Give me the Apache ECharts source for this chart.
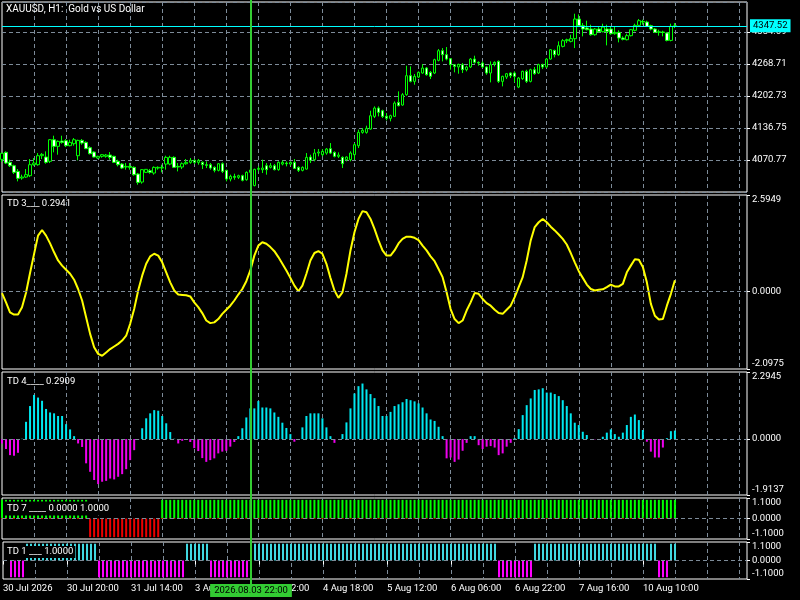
<!DOCTYPE html>
<html><head><meta charset="utf-8">
<script src="https://cdn.jsdelivr.net/npm/echarts@6/dist/echarts.min.js"></script>
<style>html,body{margin:0;padding:0;background:#000;}#c{width:800px;height:600px;}</style>
</head><body><div id="c"></div>
<script>
// ---- data (H1 bars, index 0..168) ----
const open = [
4072.0,4086.5,4065.9,4059.0,4047.3,4033.6,4035.6,4038.4,4061.1,4061.1,
4079.6,4076.9,4068.0,4112.6,4098.9,4109.9,4110.6,4100.3,4104.4,4079.6,
4111.2,4107.1,4096.1,4087.2,4074.8,4078.3,4078.3,4081.0,4078.3,4068.0,
4062.4,4056.3,4057.6,4055.6,4041.8,4025.3,4045.3,4048.7,4043.9,4054.2,
4054.2,4062.4,4062.4,4076.2,4057.6,4056.3,4063.1,4065.9,4070.0,4065.9,
4065.9,4061.1,4061.1,4055.6,4049.4,4063.1,4049.4,4031.5,4037.0,4035.0,
4038.4,4030.1,4045.3,4018.0,4051.5,4050.8,4059.0,4055.6,4059.0,4050.8,
4062.4,4064.5,4062.4,4065.9,4055.6,4049.4,4052.1,4076.9,4071.4,4085.1,
4081.7,4085.1,4094.1,4086.5,4078.3,4076.2,4071.4,4071.4,4081.7,4100.2,
4127.7,4127.7,4134.6,4160.7,4177.9,4172.4,4161.0,4156.6,4160.7,4189.6,
4184.1,4205.4,4244.6,4232.9,4241.8,4250.1,4260.4,4251.5,4250.1,4276.2,
4296.1,4287.9,4279.6,4267.3,4262.5,4267.3,4257.0,4262.5,4278.9,4272.1,
4270.7,4262.5,4250.1,4268.6,4274.1,4232.9,4241.8,4250.1,4250.1,4221.2,
4238.4,4253.5,4232.9,4256.9,4250.1,4267.3,4262.5,4278.9,4296.8,4287.9,
4305.1,4316.8,4315.4,4320.9,4361.4,4347.7,4342.9,4340.8,4329.1,4340.8,
4335.3,4340.8,4340.8,4331.2,4333.9,4322.3,4318.8,4327.1,4338.1,4348.4,
4356.6,4355.2,4347.7,4340.8,4333.9,4334.6,4332.6,4317.4,4346.3];
const high = [
4086.0,4088.6,4071.4,4061.1,4052.1,4040.5,4052.1,4072.8,4074.8,4085.1,
4085.1,4088.6,4114.0,4120.9,4111.2,4120.9,4114.0,4112.6,4116.1,4112.6,
4114.0,4109.2,4098.9,4088.6,4079.6,4083.1,4083.1,4087.2,4079.6,4071.4,
4064.5,4064.5,4064.5,4057.6,4043.9,4052.1,4052.1,4052.1,4057.6,4057.6,
4061.1,4079.6,4079.6,4078.3,4064.5,4065.9,4072.8,4074.8,4072.8,4072.8,
4068.0,4068.0,4064.5,4057.6,4064.5,4065.9,4050.8,4040.5,4042.5,4040.5,
4040.5,4047.3,4052.1,4052.8,4057.6,4071.4,4064.5,4064.5,4062.4,4068.0,
4070.0,4068.0,4068.0,4072.8,4057.6,4057.6,4085.1,4081.7,4093.4,4093.4,
4093.4,4095.4,4105.7,4088.6,4086.5,4078.3,4078.3,4088.6,4105.7,4133.3,
4136.7,4141.5,4172.4,4181.3,4181.3,4174.5,4167.6,4164.2,4191.7,4212.3,
4208.8,4265.2,4263.8,4248.0,4253.5,4268.6,4262.5,4254.2,4279.6,4299.6,
4301.6,4303.7,4281.0,4268.6,4269.3,4270.7,4265.2,4281.0,4285.8,4274.1,
4274.1,4263.8,4274.1,4274.1,4276.2,4244.6,4250.1,4251.5,4253.5,4241.8,
4255.0,4256.9,4259.0,4262.5,4269.3,4269.3,4280.9,4299.6,4298.2,4315.4,
4320.2,4320.9,4329.1,4372.4,4371.0,4353.2,4358.0,4349.7,4342.9,4344.9,
4351.8,4349.7,4346.3,4346.3,4338.1,4325.7,4331.2,4340.8,4351.8,4361.4,
4360.0,4358.0,4349.7,4342.9,4339.4,4337.4,4333.9,4351.8,4353.2];
const low = [
4066.6,4062.4,4056.3,4041.8,4026.7,4030.1,4033.6,4035.6,4059.0,4059.0,
4072.8,4063.1,4064.5,4086.5,4081.7,4104.4,4097.5,4098.9,4100.3,4070.0,
4102.3,4093.4,4082.4,4076.2,4072.8,4075.5,4075.5,4071.4,4064.5,4057.6,
4052.1,4050.8,4050.8,4038.4,4019.8,4021.9,4043.9,4042.5,4040.5,4050.8,
4045.3,4050.8,4060.0,4054.2,4047.3,4052.1,4061.1,4063.1,4062.4,4061.1,
4052.1,4054.2,4050.8,4045.3,4047.3,4043.9,4026.7,4026.7,4030.1,4031.5,
4026.7,4028.1,4040.5,4016.4,4047.3,4043.9,4040.5,4053.5,4049.4,4048.7,
4059.7,4057.6,4059.0,4052.1,4046.0,4047.3,4050.8,4064.5,4068.0,4078.3,
4078.3,4081.7,4083.1,4076.2,4074.8,4054.2,4068.0,4068.0,4071.4,4095.4,
4125.0,4125.0,4133.3,4157.3,4160.7,4157.3,4152.5,4150.4,4159.3,4181.3,
4182.7,4203.3,4230.8,4226.0,4239.8,4248.7,4244.6,4237.7,4248.0,4274.1,
4274.1,4276.2,4257.0,4251.5,4248.7,4250.1,4253.5,4260.4,4269.3,4265.2,
4260.4,4246.6,4230.8,4263.8,4229.5,4222.6,4237.7,4239.8,4230.8,4219.0,
4236.0,4229.5,4230.8,4246.6,4248.0,4258.3,4260.4,4277.6,4282.4,4285.8,
4303.0,4311.9,4313.3,4301.6,4344.9,4325.7,4338.1,4327.1,4327.1,4333.9,
4333.9,4307.1,4329.1,4329.1,4313.3,4317.4,4317.4,4325.7,4336.0,4344.9,
4349.7,4344.9,4338.1,4332.6,4327.1,4325.7,4315.4,4315.4,4342.9];
const close = [
4084.5,4064.5,4059.0,4045.3,4032.9,4035.6,4040.5,4061.1,4064.5,4079.6,
4082.4,4065.9,4112.6,4098.9,4109.2,4107.1,4100.3,4107.1,4112.6,4111.2,
4105.7,4094.1,4083.8,4076.9,4078.3,4081.7,4081.0,4076.2,4065.9,4061.1,
4054.2,4057.6,4055.6,4040.5,4024.6,4050.8,4051.5,4045.3,4055.6,4055.6,
4055.6,4076.2,4076.2,4055.6,4056.3,4063.1,4065.9,4070.0,4065.9,4070.0,
4061.1,4059.7,4054.2,4049.4,4063.1,4047.3,4031.5,4037.0,4035.0,4038.4,
4028.8,4045.3,4050.0,4051.5,4053.5,4054.2,4050.8,4059.0,4050.8,4065.9,
4065.9,4063.1,4065.9,4053.5,4049.4,4055.6,4076.2,4070.0,4085.1,4087.2,
4088.6,4093.4,4085.1,4078.3,4081.0,4063.1,4076.9,4085.1,4102.3,4127.7,
4131.9,4136.0,4162.1,4177.9,4169.0,4160.7,4157.0,4162.1,4188.2,4182.7,
4205.4,4244.6,4232.9,4243.2,4251.5,4260.4,4246.6,4243.2,4277.6,4296.1,
4287.9,4278.9,4267.3,4263.8,4267.9,4257.0,4262.5,4278.9,4272.1,4270.7,
4262.5,4250.1,4267.3,4272.1,4232.9,4243.2,4248.7,4244.6,4243.2,4239.8,
4253.6,4232.9,4256.9,4248.7,4267.3,4262.5,4278.9,4298.2,4287.9,4306.4,
4316.8,4318.8,4320.9,4361.4,4347.7,4340.8,4339.4,4329.1,4340.8,4335.3,
4344.9,4336.0,4331.2,4333.9,4322.3,4319.5,4327.1,4339.4,4348.4,4358.0,
4355.2,4346.3,4340.8,4333.9,4335.3,4333.9,4317.4,4346.3,4347.52];
const td3 = [
-0.05,-0.30,-0.57,-0.63,-0.63,-0.43,-0.04,0.49,1.00,1.50,
1.65,1.50,1.29,1.05,0.83,0.69,0.58,0.47,0.31,0.06,
-0.25,-0.70,-1.15,-1.51,-1.69,-1.74,-1.65,-1.56,-1.49,-1.42,
-1.33,-1.20,-0.88,-0.48,0.02,0.42,0.74,0.94,1.01,0.96,
0.78,0.51,0.24,0.02,-0.09,-0.10,-0.11,-0.14,-0.30,-0.43,
-0.59,-0.79,-0.86,-0.84,-0.75,-0.61,-0.50,-0.39,-0.25,-0.09,
0.06,0.27,0.56,0.96,1.23,1.32,1.28,1.19,1.08,0.92,
0.74,0.56,0.36,0.15,0.00,0.15,0.47,0.83,1.03,1.08,
1.01,0.74,0.36,0.02,-0.18,-0.03,0.47,1.10,1.59,1.95,
2.16,2.13,1.95,1.68,1.37,1.10,0.96,0.96,1.10,1.29,
1.41,1.47,1.47,1.44,1.38,1.23,1.10,0.94,0.81,0.60,
0.38,-0.03,-0.48,-0.75,-0.86,-0.79,-0.52,-0.30,-0.05,-0.07,
-0.21,-0.32,-0.39,-0.50,-0.59,-0.61,-0.50,-0.39,-0.16,0.11,
0.38,0.83,1.37,1.73,1.86,1.95,1.86,1.74,1.64,1.53,
1.41,1.26,1.03,0.78,0.54,0.36,0.18,0.06,0.02,0.04,
0.05,0.11,0.18,0.13,0.13,0.20,0.51,0.69,0.86,0.85,
0.65,0.24,-0.34,-0.66,-0.76,-0.75,-0.39,-0.07,0.2941];
const td4 = [
-0.15,-0.34,-0.55,-0.57,-0.47,0.01,0.59,1.13,1.51,1.42,
1.31,1.03,0.91,0.88,0.79,0.79,0.51,0.33,0.10,-0.15,
-0.27,-0.83,-1.12,-1.40,-1.54,-1.46,-1.43,-1.35,-1.38,-1.29,
-1.20,-1.03,-0.72,-0.38,-0.03,0.37,0.71,0.88,0.99,0.97,
0.79,0.54,0.24,0.01,-0.15,-0.06,0.00,-0.10,-0.31,-0.41,
-0.65,-0.78,-0.72,-0.66,-0.49,-0.43,-0.40,-0.26,-0.10,0.10,
0.37,0.74,1.05,1.05,1.30,1.08,1.08,1.05,0.91,0.76,
0.56,0.38,0.17,-0.09,0.00,0.40,0.79,0.88,0.88,0.88,
0.71,0.40,0.10,-0.13,0.00,0.17,0.57,1.05,1.56,1.81,
1.90,1.70,1.54,1.40,1.13,0.79,0.79,0.93,1.13,1.19,
1.26,1.37,1.33,1.29,1.22,1.08,0.88,0.67,0.62,0.42,
0.10,-0.66,-0.63,-0.78,-0.70,-0.40,-0.13,0.10,0.10,-0.21,
-0.34,-0.26,-0.24,-0.29,-0.55,-0.49,-0.26,-0.13,0.03,0.34,
0.82,1.16,1.39,1.68,1.70,1.74,1.59,1.59,1.54,1.47,
1.33,1.13,0.88,0.56,0.48,0.25,0.14,0.00,-0.01,0.00,
0.08,0.22,0.33,0.17,0.08,0.22,0.48,0.76,0.84,0.65,
0.31,-0.09,-0.43,-0.63,-0.63,-0.29,0.03,0.27,0.2909];
const td7 = [
1,1,1,1,1,1,1,1,1,1,
1,1,1,1,1,1,1,1,1,1,
1,1,-1,-1,-1,-1,-1,-1,-1,-1,
-1,-1,-1,-1,-1,-1,-1,-1,-1,-1,
1,1,1,1,1,1,1,1,1,1,
1,1,1,1,1,1,1,1,1,1,
1,1,1,1,1,1,1,1,1,1,
1,1,1,1,1,1,1,1,1,1,
1,1,1,1,1,1,1,1,1,1,
1,1,1,1,1,1,1,1,1,1,
1,1,1,1,1,1,1,1,1,1,
1,1,1,1,1,1,1,1,1,1,
1,1,1,1,1,1,1,1,1,1,
1,1,1,1,1,1,1,1,1,1,
1,1,1,1,1,1,1,1,1,1,
1,1,1,1,1,1,1,1,1,1,
1,1,1,1,1,1,1,1,1];
const td1 = [
null,null,-1,-1,-1,-1,1,1,1,1,
1,1,1,1,1,1,1,1,1,1,
1,1,1,1,-1,-1,-1,-1,-1,-1,
-1,-1,-1,-1,-1,-1,-1,-1,-1,-1,
-1,-1,-1,-1,-1,-1,1,1,1,1,
1,1,-1,-1,-1,-1,-1,-1,-1,-1,
-1,-1,1,1,1,1,1,1,1,1,
1,1,1,1,1,1,1,1,1,1,
1,1,1,1,1,1,1,1,1,1,
1,1,1,1,1,1,1,1,1,1,
1,1,1,1,1,1,1,1,1,1,
1,1,1,1,1,1,1,1,1,1,
1,1,1,1,-1,-1,-1,-1,-1,-1,
-1,-1,-1,1,1,1,1,1,1,1,
1,1,1,1,1,1,1,1,1,1,
1,1,1,1,1,1,1,1,1,1,
1,1,1,1,-1,-1,-1,1,1];
const tickLabels = ['30 Jul 2026','30 Jul 20:00','31 Jul 14:00','3 Aug 08:00','4 Aug 02:00','4 Aug 18:00',
  '5 Aug 12:00','6 Aug 06:00','6 Aug 22:00','7 Aug 16:00','10 Aug 10:00'];
const td3Ticks = [-2.0975, 0, 2.5949];
const td4Ticks = [-1.9137, 0, 2.2945];
const td7Ticks = [-1.1, 0, 1.1];
const td1Ticks = [-1.1, 0, 1.1];
const priceMin = 4004.79, priceMax = 4396.55, priceStep = 65.98;
const bidPrice = 4347.52;
const crossIndex = 62;
const crossLabel = '2026.08.03 22:00';
const tickStep = 16, gridStep = 8, futureSlots = 18;

// ---- chart ----
const FONT = 'Roboto, "Liberation Sans", Arial, sans-serif';
const FS = 9.5;
const GRID_CLR = '#7d8b99';
const DASH = [4, 3];
const N = close.length;
const cats = Array.from({length: N + futureSlots}, (_, i) => String(i));
const paneBoxes = [[2,190],[195,174],[372,123],[498,41],[542,37]];
const grids = paneBoxes.map(([t,h]) => ({left:2, right:53, top:t, height:h, show:true,
  borderColor:'#ffffff', borderWidth:1, backgroundColor:'transparent'}));
const isTick = idx => idx % tickStep === 0 && idx / tickStep < tickLabels.length;
const xAxes = grids.map((g, i) => ({
  type:'category', gridIndex:i, data:cats, boundaryGap:false,
  axisLine:{show:false},
  axisTick: i === 4 ? {show:true, length:4, interval:(idx)=>isTick(idx), lineStyle:{color:'#fff'}} : {show:false},
  axisLabel: i === 4 ? {show:true, interval:(idx)=>isTick(idx), formatter:(v, idx)=>tickLabels[idx / tickStep],
      align:'left', margin:5, color:'#fff', fontSize:FS, fontFamily:FONT} : {show:false},
  splitLine:{show:true, interval:(idx)=> idx > 0 && idx % gridStep === 0, lineStyle:{color:GRID_CLR, type:DASH, width:1}}
}));
function indAxis(i, ticks){
  const lo = ticks[0], hi = ticks[ticks.length-1];
  return {type:'value', gridIndex:i, position:'right', min:lo, max:hi,
    axisLine:{show:false},
    axisTick:{show:true, length:3, customValues:ticks, lineStyle:{color:'#fff'}},
    axisLabel:{customValues:ticks, formatter:v=>Number(v).toFixed(4), color:'#fff', fontSize:FS, fontFamily:FONT, margin:5,
      verticalAlignMinLabel:'bottom', verticalAlignMaxLabel:'top'},
    splitLine:{show:false}};
}
const yAxes = [
  {type:'value', gridIndex:0, position:'right', min:priceMin, max:priceMax, interval:priceStep,
   axisLine:{show:false}, axisTick:{show:true, length:3, lineStyle:{color:'#fff'}},
   axisLabel:{color:'#fff', fontSize:FS, fontFamily:FONT, margin:5, formatter:v=>Number(v).toFixed(2), showMinLabel:false, showMaxLabel:false},
   splitLine:{show:true, lineStyle:{color:GRID_CLR, type:DASH, width:1}}},
  indAxis(1, td3Ticks), indAxis(2, td4Ticks), indAxis(3, td7Ticks), indAxis(4, td1Ticks)
];
const zeroLine = {silent:true, symbol:['none','none'], label:{show:false},
  lineStyle:{color:GRID_CLR, type:DASH, width:1}, emphasis:{disabled:true}, data:[{yAxis:0}]};
const titleStyle = {color:'#fff', fontSize:FS, fontWeight:'normal', fontFamily:FONT};
const last = a => a[a.length-1];

const option = {
  backgroundColor:'#000', animation:false,
  textStyle:{fontFamily:FONT},
  title:[
    {text:'XAUUSD, H1:  Gold vs US Dollar', left:6, top:4, padding:0, textStyle:Object.assign({}, titleStyle, {fontSize:10})},
    {text:'TD 3___ ' + last(td3).toFixed(4), left:5, top:199, padding:[0,2], textStyle:titleStyle},
    {text:'TD 4____ ' + last(td4).toFixed(4), left:5, top:377, padding:[0,2], textStyle:titleStyle},
    {text:'TD 7 ____ 0.0000 ' + last(td7).toFixed(4), left:5, top:501.5, padding:[2,2,2,2], backgroundColor:'#000', textStyle:titleStyle},
    {text:'TD 1 ___ ' + last(td1).toFixed(4), left:5, top:546, padding:[1,2,1,2], backgroundColor:'#000', textStyle:titleStyle}
  ],
  grid:grids, xAxis:xAxes, yAxis:yAxes,
  series:[
    {type:'candlestick', xAxisIndex:0, yAxisIndex:0, barWidth:3,
     data: close.map((c,i)=>[open[i], c, low[i], high[i]]),
     itemStyle:{color:'#000000', color0:'#ffffff', borderColor:'#00ff00', borderColor0:'#00ff00', borderWidth:1},
     markLine:{silent:true, symbol:['none','none'], emphasis:{disabled:true},
       lineStyle:{color:'#00ffff', type:'solid', width:1},
       label:{show:true, position:'end', distance:3, formatter:bidPrice.toFixed(2), color:'#000', backgroundColor:'#00ffff',
         padding:[2,3,1,3], fontSize:FS, fontFamily:FONT},
       data:[{yAxis:bidPrice}]}},
    {type:'line', xAxisIndex:1, yAxisIndex:1, data:td3, symbol:'none', lineStyle:{color:'#ffff00', width:2}, itemStyle:{color:'#ffff00'},
     markLine:zeroLine},
    {type:'bar', xAxisIndex:2, yAxisIndex:2, data:td4, barWidth:2,
     itemStyle:{color:p=> p.value >= 0 ? '#00e8f0' : '#ee00ee'}, markLine:zeroLine},
    {type:'bar', xAxisIndex:3, yAxisIndex:3, data:td7, barWidth:2,
     itemStyle:{color:p=> p.value >= 0 ? '#00ff00' : '#ee0000'}, markLine:zeroLine},
    {type:'scatter', xAxisIndex:3, yAxisIndex:3, silent:true, z:3,
     data: td7.map(v => v > 0 ? 0 : null), symbol:'rect', symbolSize:[2,1], itemStyle:{color:'#ee0000'}},
    {type:'bar', xAxisIndex:4, yAxisIndex:4, data:td1, barWidth:2,
     itemStyle:{color:p=> p.value >= 0 ? '#40d8e0' : '#ff00ff'}, markLine:zeroLine}
  ]
};
const chart = echarts.init(document.getElementById('c'));
chart.setOption(option);
const px = chart.convertToPixel({xAxisIndex:4}, crossIndex);
const yBottom = chart.convertToPixel({yAxisIndex:4}, td1Ticks[0]);
chart.setOption({graphic:[
  {type:'line', z:100, silent:true, shape:{x1:px, y1:0, x2:px, y2:yBottom + 5}, style:{stroke:'#33cc33', lineWidth:2}},
  {type:'text', z:101, silent:true, x:px, y:yBottom + 5,
   style:{text:crossLabel, align:'center', verticalAlign:'top', fill:'#000', backgroundColor:'#33cc33',
     padding:[2,4,1,4], font:FS + 'px ' + FONT}}
]});
</script></body></html>
